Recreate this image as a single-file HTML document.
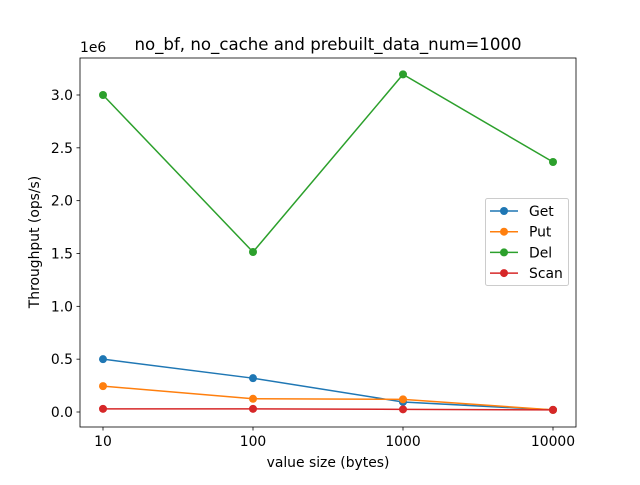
<!DOCTYPE html>
<html><head><meta charset="utf-8"><style>
body{margin:0;background:#fff;}
svg text{font-family:"DejaVu Sans","Liberation Sans",sans-serif;fill:#000;}
</style></head><body>
<svg width="640" height="480" xmlns="http://www.w3.org/2000/svg">
<rect width="640" height="480" fill="#fff"/>
<text x="328" y="50" font-size="16.6" text-anchor="middle">no_bf, no_cache and prebuilt_data_num=1000</text>
<g id="plot"></g>
<rect x="80" y="58" width="496" height="369" fill="none" stroke="#000" stroke-width="0.8"/>
<text x="80" y="52" font-size="13.9">1e6</text>
<text x="328" y="467" font-size="13.9" text-anchor="middle">value size (bytes)</text>
<text transform="translate(39,242) rotate(-90)" font-size="13.9" text-anchor="middle">Throughput (ops/s)</text>
<g id="legend"></g>
</svg>
<script>
const categories=[10,100,1000,10000];
const xTickLabels=["10","100","1000","10000"];
const yTicks=[0,0.5,1.0,1.5,2.0,2.5,3.0];
const yTickLabels=["0.0","0.5","1.0","1.5","2.0","2.5","3.0"];
const seriesNames=["Get","Put","Del","Scan"];
const getVals=[0.5,0.32,0.095,0.02];
const putVals=[0.245,0.125,0.12,0.02];
const delVals=[3.0,1.514,3.195,2.366];
const scanVals=[0.03,0.03,0.025,0.02];
const colors=["#1f77b4","#ff7f0e","#2ca02c","#d62728"];
const NS="http://www.w3.org/2000/svg";
const xs=v=>103+150*Math.log10(v/10);
const ys=v=>412-105.67*v;
const plot=document.getElementById('plot');
function mk(t,a,p){const e=document.createElementNS(NS,t);for(const k in a)e.setAttribute(k,a[k]);(p||plot).appendChild(e);return e;}
categories.forEach((c,i)=>{
 const x=xs(c);
 const t=mk('line',{x1:x,x2:x,y1:427,y2:430.5,stroke:'#000','stroke-width':0.8});
 
 
 const l=mk('text',{x:x,y:446,'font-size':13.9,'text-anchor':'middle'});l.textContent=xTickLabels[i];
 
 
});
yTicks.forEach((v,i)=>{
 const y=ys(v);
 const t=mk('line',{x1:76.5,x2:80,y1:y,y2:y,stroke:'#000','stroke-width':0.8});
 
 
 const l=mk('text',{x:73,y:y+5,'font-size':13.9,'text-anchor':'end'});l.textContent=yTickLabels[i];
 
 
});
[getVals,putVals,delVals,scanVals].forEach((vals,s)=>{
 const pts=vals.map((v,i)=>xs(categories[i])+','+ys(v)).join(' ');
 const pl=mk('polyline',{points:pts,fill:'none',stroke:colors[s],'stroke-width':1.5});
 
 
 vals.forEach((v,i)=>{
  const c=mk('circle',{cx:xs(categories[i]),cy:ys(v),r:4,fill:colors[s]});
  
  
 });
});
const lg=document.getElementById('legend');
const bx=mk('rect',{x:485.5,y:198.5,width:83,height:87,rx:2,fill:'#fff','fill-opacity':0.8,stroke:'#ccc'},lg);


seriesNames.forEach((n,i)=>{
 const y=211+20.7*i;
 const g=mk('g',{},lg);
 
 
 mk('line',{x1:490,x2:518,y1:y,y2:y,stroke:colors[i],'stroke-width':1.5},g);
 mk('circle',{cx:504,cy:y,r:4,fill:colors[i]},g);
 const t=mk('text',{x:529,y:y+5,'font-size':13.9},g);t.textContent=n;
});
</script>
</body></html>
